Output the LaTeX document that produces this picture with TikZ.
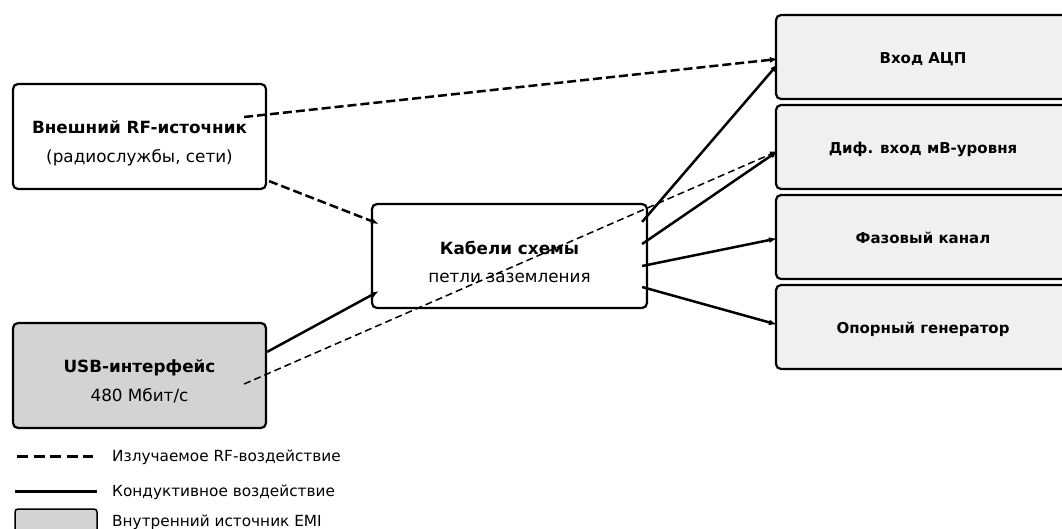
\documentclass[tikz,border=0pt]{standalone}
\usepackage{fontspec}
\setmainfont{DejaVu Sans}
\usepackage{tikz}
\usetikzlibrary{positioning,arrows.meta}
\definecolor{internalColor}{HTML}{D3D3D3}
\definecolor{targetColor}{HTML}{F0F0F0}
\tikzstyle{boxStyle} = [draw=black, line width=2.2pt, rounded corners=5pt, fill=white, inner sep=0pt]
\tikzstyle{sourceBox} = [boxStyle, minimum width=253pt, minimum height=105pt]
\tikzstyle{internalBox} = [sourceBox, fill=internalColor]
\tikzstyle{cableBox} = [boxStyle, minimum width=275pt, minimum height=104pt]
\tikzstyle{targetBox} = [boxStyle, fill=targetColor, minimum width=294pt, minimum height=84pt]
\tikzstyle{titleText} = [anchor=base, font=\bfseries\fontsize{16.8}{19}\selectfont]
\tikzstyle{subText} = [anchor=base, font=\fontsize{16.8}{19}\selectfont]
\tikzstyle{targetText} = [anchor=base, font=\bfseries\fontsize{15}{18}\selectfont]
\tikzstyle{legendText} = [anchor=base west, inner sep=0pt, font=\fontsize{15.3}{18}\selectfont]
\tikzstyle{conducted} = [-{Latex[length=8pt,width=6pt]}, line width=2.5pt]
\tikzstyle{radiated} = [conducted, dash pattern=on 9pt off 4pt]
\tikzstyle{radiatedThin} = [radiated, line width=1.5pt, dash pattern=on 7pt off 4pt]
\newcommand{\boxTitle}[3]{\node [titleText] (#1Title) at ([yshift=#2]#1.center) {#3};}
\newcommand{\boxSub}[3]{\node [subText] (#1Sub) at ([yshift=#2]#1.center) {#3};}
\newcommand{\targetTitle}[2]{\node [targetText] (#1Title) at ([yshift=-6pt]#1.center) {#2};}

\begin{document}
\begin{tikzpicture}[x=1pt, y=-1pt]
\useasboundingbox (0,0) rectangle (1062,528);
% sources
\node [sourceBox] (rfSource) at (139.5,136.5) {};
\boxTitle{rfSource}{3pt}{Внешний RF-источник}
\boxSub{rfSource}{-25.5pt}{(радиослужбы, сети)}
\node [internalBox] (usbSource) at (139.5,375.5) {};
\boxTitle{usbSource}{3pt}{USB-интерфейс}
\boxSub{usbSource}{-25.5pt}{480 Мбит/с}
% coupling path
\node [cableBox] (cables) at (509.5,256) {};
\boxTitle{cables}{2pt}{Кабели схемы}
\boxSub{cables}{-26pt}{петли заземления}
% victims
\node [targetBox] (adcInput) at (923,57) {};
\node [targetBox, below=3.8pt of adcInput] (diffInput) {};
\node [targetBox, below=3.8pt of diffInput] (phaseChannel) {};
\node [targetBox, below=3.8pt of phaseChannel] (refOscillator) {};
\targetTitle{adcInput}{Вход АЦП}
\targetTitle{diffInput}{Диф. вход мВ-уровня}
\targetTitle{phaseChannel}{Фазовый канал}
\targetTitle{refOscillator}{Опорный генератор}
% coupling arrows
\draw [radiated] ([shift={(-23pt,19.5pt)}]rfSource.east) -- ([shift={(3pt,-2pt)}]adcInput.west);
\draw [radiated] ([shift={(2pt,9pt)}]rfSource.south east) -- ([shift={(8pt,-21pt)}]cables.north west);
\draw [conducted] ([yshift=-30pt]usbSource.north east) -- ([shift={(8pt,18pt)}]cables.south west);
\draw [radiatedThin] ([shift={(-23pt,-8.5pt)}]usbSource.east) -- ([shift={(3pt,-4pt)}]diffInput.west);
\draw [conducted] ([shift={(-6pt,-19pt)}]cables.north east) -- ([shift={(3pt,-7pt)}]adcInput.west);
\draw [conducted] ([shift={(-6pt,12pt)}]cables.east) -- ([shift={(3pt,-4pt)}]diffInput.west);
\draw [conducted] ([shift={(-6pt,-10pt)}]cables.east) -- ([shift={(2pt,-1.5pt)}]phaseChannel.west);
\draw [conducted] ([shift={(-6pt,-31pt)}]cables.east) -- ([shift={(2pt,2.5pt)}]refOscillator.west);
% legend
\draw [line width=3pt, dash pattern=on 11pt off 5.5pt] (17,456) -- (93,456);
\node [legendText] (radiatedLegend) at (112,461) {Излучаемое RF-воздействие};
\draw [line width=3pt] (15,491) -- (97,491);
\node [legendText] (conductedLegend) at (112,496) {Кондуктивное воздействие};
\draw [line width=1.5pt, rounded corners=3pt, fill=internalColor] (15,509) rectangle (97,540);
\node [legendText] (internalLegend) at (112,526) {Внутренний источник EMI};
\end{tikzpicture}
\end{document}
